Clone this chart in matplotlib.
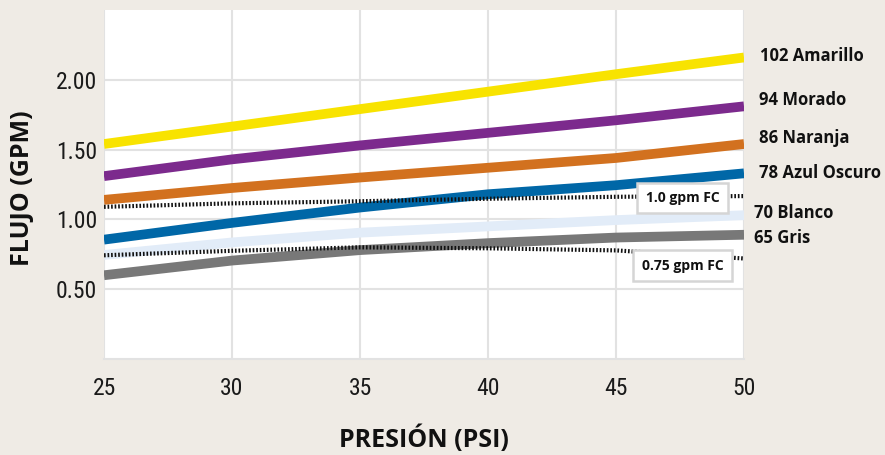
import matplotlib
matplotlib.use("Agg")
import matplotlib.pyplot as plt
from matplotlib import font_manager

# ---- data ----
presion = [25, 30, 35, 40, 45, 50]
series_names = ["102 Amarillo", "94 Morado", "86 Naranja", "78 Azul Oscuro", "70 Blanco", "65 Gris"]
amarillo = [1.54, 1.665, 1.79, 1.915, 2.04, 2.16]
morado = [1.31, 1.43, 1.53, 1.62, 1.71, 1.81]
naranja = [1.14, 1.225, 1.30, 1.37, 1.44, 1.54]
azul = [0.855, 0.975, 1.085, 1.18, 1.245, 1.33]
blanco = [0.745, 0.835, 0.905, 0.95, 0.995, 1.03]
gris = [0.60, 0.705, 0.78, 0.83, 0.87, 0.89]
fc_names = ["1.0 gpm FC", "0.75 gpm FC"]
fc_10 = [1.09, 1.115, 1.13, 1.148, 1.162, 1.167]
fc_075 = [0.743, 0.775, 0.80, 0.793, 0.778, 0.72]
x_ticks = [25, 30, 35, 40, 45, 50]
y_ticks = [0.5, 1.0, 1.5, 2.0]
y_ticklabels = ["0.50", "1.00", "1.50", "2.00"]

# ---- style ----
bg = "#EFEBE5"
grid_c = "#E2E2E2"
colors = ["#F8E300", "#7C2A8D", "#D2711F", "#0067A7", "#E2ECF8", "#787878"]
label_y = [2.17, 1.857, 1.583, 1.333, 1.048, 0.869]
label_x = [50.63, 50.6, 50.6, 50.6, 50.39, 50.39]
bold_fam = ["Open Sans", "DejaVu Sans"]

available = {f.name for f in font_manager.fontManager.ttflist}
tick_fam = ["Open Sans", "DejaVu Sans"]
for cand in ["Liberation Sans Narrow", "Roboto Condensed", "Open Sans Condensed",
             "DejaVu Sans Condensed"]:
    if cand in available:
        tick_fam = [cand, "DejaVu Sans"]
        break

fig = plt.figure(figsize=(8.85, 4.55), dpi=100, facecolor=bg)
ax = fig.add_axes([104 / 885, 1 - 359 / 455, 640 / 885, 349 / 455])
ax.set_facecolor("white")
ax.set_xlim(25, 50)
ax.set_ylim(0, 2.5)

for s in ["top", "left", "right"]:
    ax.spines[s].set_visible(False)
ax.spines["bottom"].set_color(grid_c)
ax.spines["bottom"].set_linewidth(1.5)

ax.set_xticks(x_ticks)
ax.set_yticks(y_ticks)
ax.set_yticklabels(y_ticklabels)
ax.grid(True, color=grid_c, linewidth=1.5)
ax.set_axisbelow(True)
ax.tick_params(axis="both", length=0, labelsize=17, colors="#1a1a1a")
ax.tick_params(axis="x", pad=13)
ax.tick_params(axis="y", pad=5)
for lab in ax.get_xticklabels() + ax.get_yticklabels():
    lab.set_family(tick_fam)

all_series = [amarillo, morado, naranja, azul, blanco, gris]
for vals, col in zip(all_series, colors):
    ax.plot(presion, vals, color=col, linewidth=7, solid_capstyle="butt",
            solid_joinstyle="round", zorder=3)

for vals in [fc_10, fc_075]:
    ax.plot(presion, vals, color="#111111", linewidth=3,
            linestyle=(0, (0.4, 0.45)), dash_capstyle="butt", zorder=4)

# series labels on the right
for name, lx, ly in zip(series_names, label_x, label_y):
    ax.text(lx, ly, name, fontsize=12, fontweight="bold", family=bold_fam,
            color="#111111", va="center", ha="left", clip_on=False)

# FC boxed labels
for name, ly in zip(fc_names, [1.154, 0.668]):
    ax.text(47.6, ly, name, fontsize=10, fontweight="bold", family=bold_fam,
            color="#111111", va="center", ha="center", zorder=6,
            bbox=dict(boxstyle="square,pad=0.6", facecolor="white",
                      edgecolor="#D5D5D5", linewidth=1.8))

ax.set_ylabel("FLUJO (GPM)", fontsize=18, fontweight="bold", family=bold_fam,
              color="#111111")
ax.yaxis.set_label_coords(-0.108, 0.49)
ax.set_xlabel("PRESIÓN (PSI)", fontsize=18, fontweight="bold", family=bold_fam,
              color="#111111", labelpad=18)

fig.savefig("out.png", dpi=100, facecolor=bg)
